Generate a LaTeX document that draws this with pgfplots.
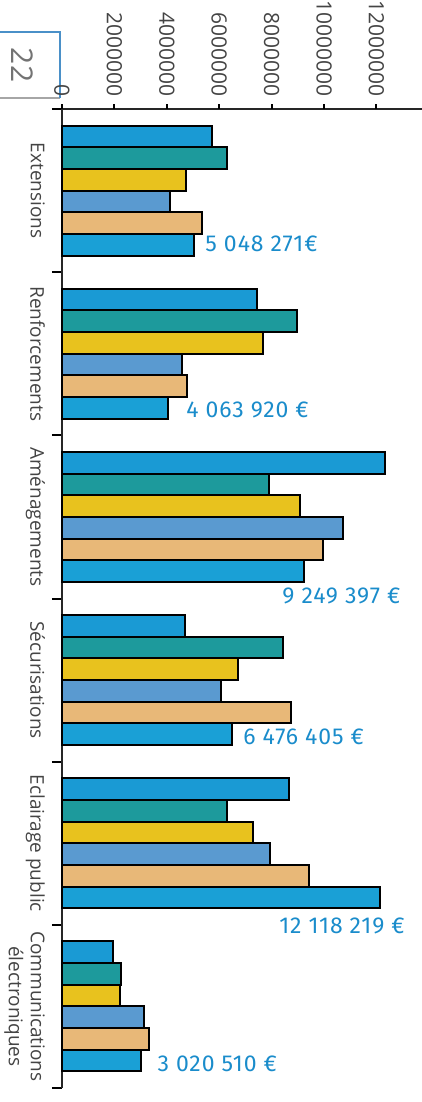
\documentclass[border=0pt]{standalone}
\usepackage{pgfplots}
\pgfplotsset{compat=1.18}
\usepackage{fontspec}
\setmainfont{Open Sans}
\newfontfamily\valfont[LetterSpace=4]{Fira Sans}

\definecolor{sA}{HTML}{1A9AD4}
\definecolor{sB}{HTML}{1D9A9C}
\definecolor{sC}{HTML}{E8C21E}
\definecolor{sD}{HTML}{5A9AD0}
\definecolor{sE}{HTML}{E8B878}
\definecolor{sF}{HTML}{1AA0D6}
\definecolor{valblue}{HTML}{1A8CCB}
\definecolor{txtgray}{HTML}{444444}
\definecolor{boxblue}{HTML}{4A90C8}

\begin{document}
\begin{tikzpicture}
\path[use as bounding box] (0,0) rectangle (211pt,-551pt);

% page number box
\draw[gray!70, line width=0.6pt] (-1pt,-49pt) -- (30pt,-49pt);
\draw[boxblue, line width=0.8pt] (-1pt,-16pt) -- (30pt,-16pt) -- (30pt,-49pt);
\node[rotate=-90, font=\fontsize{15}{15}\selectfont, text=gray!90!black] at (11pt,-32.5pt) {22};

\begin{axis}[
  at={(31pt,-54.5pt)}, anchor=north west,
  scale only axis, width=180pt, height=489.5pt,
  xbar, y dir=reverse,
  xmin=0, xmax=13740000,
  ymin=-0.5, ymax=5.5,
  axis x line*=top, axis y line*=left,
  axis line style={line width=0.8pt, black!85},
  xtick=\empty,
  extra x ticks={0,2000000,4000000,6000000,8000000,10000000,12000000},
  extra x tick labels={0,2000000,4000000,6000000,8000000,10000000,12000000},
  extra x tick style={major tick length=2.5pt},
  scaled x ticks=false,
  tick align=outside,
  major tick length=5pt,
  tick style={line width=1pt, black},
  xticklabel style={rotate=-90, anchor=east, font=\fontsize{10.5}{11}\selectfont, text=txtgray},
  ytick={-0.5,0.5,1.5,2.5,3.5,4.5,5.5},
  yticklabels={},
  extra y ticks={0,1,2,3,4,5},
  extra y tick labels={Extensions,Renforcements,Aménagements,Sécurisations,Eclairage public,{Communications\\électroniques}},
  extra y tick style={major tick length=0pt,
    yticklabel style={rotate=-90, anchor=north, align=center, yshift=-5pt,
      font=\fontsize{9.5}{11}\selectfont, text=txtgray}},
  bar width=0.1328,
  every axis plot/.append style={draw=black, line width=1pt},
  clip=false,
]
\addplot[fill=sA, bar shift=-0.332] coordinates {(5710000,0) (7450000,1) (12330000,2) (4690000,3) (8650000,4) (1960000,5)};
\addplot[fill=sB, bar shift=-0.199] coordinates {(6290000,0) (8980000,1) (7910000,2) (8420000,3) (6290000,4) (2240000,5)};
\addplot[fill=sC, bar shift=-0.066] coordinates {(4730000,0) (7660000,1) (9080000,2) (6730000,3) (7280000,4) (2220000,5)};
\addplot[fill=sD, bar shift=0.066] coordinates {(4120000,0) (4570000,1) (10740000,2) (6060000,3) (7940000,4) (3130000,5)};
\addplot[fill=sE, bar shift=0.199] coordinates {(5330000,0) (4760000,1) (9950000,2) (8730000,3) (9420000,4) (3330000,5)};
\addplot[fill=sF, bar shift=0.332] coordinates {(5048271,0) (4063920,1) (9249397,2) (6476405,3) (12118219,4) (3020510,5)};

% totals of the latest year
\begin{scope}[every node/.style={anchor=west, inner sep=0pt, text=valblue, font=\valfont\fontsize{11.5}{11.5}\selectfont}]
\node at (axis cs:5460000,0.327) {5 048 271€};
\node at (axis cs:4730000,1.345) {4 063 920 €};
\node at (axis cs:8400000,2.485) {9 249 397 €};
\node at (axis cs:6910000,3.349) {6 476 405 €};
\node at (axis cs:8280000,4.507) {12 118 219 €};
\node at (axis cs:3630000,5.353) {3 020 510 €};
\end{scope}
\end{axis}
\end{tikzpicture}
\end{document}
